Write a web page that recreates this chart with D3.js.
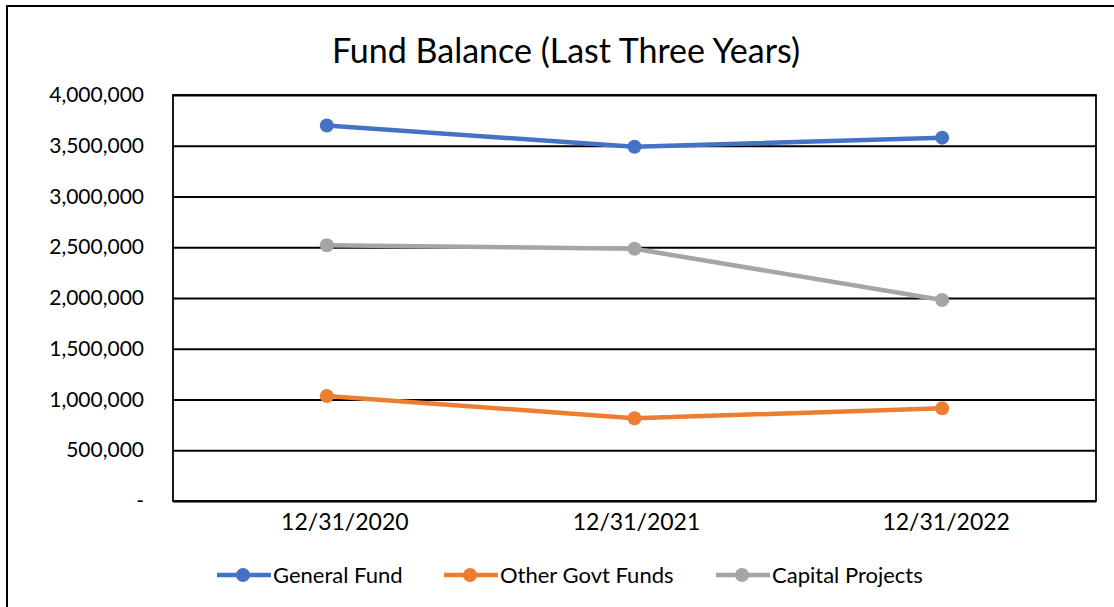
<!DOCTYPE html>
<html><head><meta charset="utf-8">
<script src="https://cdn.jsdelivr.net/npm/d3@7"></script>
<style>body{margin:0;background:#fff}svg{display:block}text{font-family:Lato,"Open Sans",sans-serif}</style>
</head><body>
<svg id="c" width="1114" height="607"></svg>
<script>
const categories = ["12/31/2020","12/31/2021","12/31/2022"];
const generalFund = [3700000, 3490000, 3580000];
const otherGovtFunds = [1035000, 815000, 913000];
const capitalProjects = [2520000, 2485000, 1980000];
const yTicks = [0,500000,1000000,1500000,2000000,2500000,3000000,3500000,4000000];
const seriesNames = ["General Fund","Other Govt Funds","Capital Projects"];
const seriesColors = ["#4472C4","#ED7D31","#A5A5A5"];

const series = [generalFund, otherGovtFunds, capitalProjects].map((v,i)=>({name:seriesNames[i],color:seriesColors[i],values:v}));
const svg = d3.select("#c");
const L=173,R=1096,T=95,B=501;
const x = d3.scaleBand().domain(categories).range([L,R]);
const y = d3.scaleLinear().domain([0,4000000]).range([B,T]);

svg.append("rect").attr("x",7).attr("y",6).attr("width",1200).attr("height",700).attr("fill","none").attr("stroke","#000").attr("stroke-width",2);

svg.append("text").attr("x",566).attr("y",63).attr("text-anchor","middle").attr("font-size",34).attr("fill","#000").text("Fund Balance (Last Three Years)");

// grid
const gy = svg.append("g").attr("transform",`translate(${L},0)`)
  .call(d3.axisLeft(y).tickValues(yTicks).tickSize(-(R-L)).tickPadding(29)
    .tickFormat(d=> d===0 ? "-" : d3.format(",")(d)));
gy.select(".domain").remove();
gy.selectAll(".tick line").attr("stroke","#000").attr("stroke-width",1.8);
gy.selectAll(".tick text").attr("font-size",21).attr("fill","#000").attr("font-family","Lato,sans-serif");
svg.append("rect").attr("x",L).attr("y",T).attr("width",R-L).attr("height",B-T).attr("fill","none").attr("stroke","#000").attr("stroke-width",1.8);

const labelShift = [18,2,4];
const gx = svg.append("g").attr("transform",`translate(0,${B})`)
  .call(d3.axisBottom(x).tickSize(0).tickPadding(9));
gx.select(".domain").remove();
gx.selectAll(".tick text").attr("font-size",23).attr("fill","#000").attr("font-family","Lato,sans-serif").attr("dy","0.85em")
  .attr("dx",(d,i)=>labelShift[i]);

const line = d3.line().x((d,i)=>x(categories[i])+x.bandwidth()/2).y(d=>y(d));
series.forEach(s=>{
  svg.append("path").attr("d",line(s.values)).attr("fill","none").attr("stroke",s.color).attr("stroke-width",4.5).attr("stroke-linejoin","round");
  svg.selectAll(null).data(s.values).enter().append("circle")
    .attr("cx",(d,i)=>x(categories[i])+x.bandwidth()/2).attr("cy",d=>y(d)).attr("r",7).attr("fill",s.color);
});

// legend
const legX = [217,444,716];
series.forEach((s,i)=>{
  const g = svg.append("g").attr("transform",`translate(${legX[i]},575)`);
  g.append("line").attr("x1",0).attr("x2",54).attr("y1",0).attr("y2",0).attr("stroke",s.color).attr("stroke-width",4.5);
  g.append("circle").attr("cx",26).attr("cy",0).attr("r",7).attr("fill",s.color);
  g.append("text").attr("x",56).attr("y",0).attr("dy","0.35em").attr("font-size",22).attr("fill","#000").text(s.name);
});
</script>
</body></html>
